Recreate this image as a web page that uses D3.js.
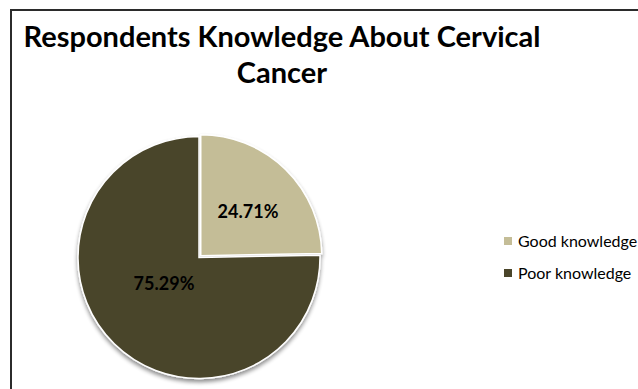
<!DOCTYPE html>
<html>
<head>
<meta charset="utf-8">
<script src="https://cdn.jsdelivr.net/npm/d3@7"></script>
<style>
  body { margin: 0; background: #fff; }
  svg { display: block; }
</style>
</head>
<body>
<div id="chart"></div>
<script>
// chart data
var categories = ["Good knowledge", "Poor knowledge"];
var shares = [24.71, 75.29];
var sliceColors = ["#C4BD97", "#4A452A"];
var titleLines = ["Respondents Knowledge About Cervical", "Cancer"];

var svgWidth = 638;
var svgHeight = 389;

var svg = d3.select("#chart")
  .append("svg")
  .attr("width", svgWidth)
  .attr("height", svgHeight);

// soft shadow under the pie
var defs = svg.append("defs");
var shadow = defs.append("filter")
  .attr("id", "shadow")
  .attr("x", "-20%").attr("y", "-20%")
  .attr("width", "140%").attr("height", "140%");
shadow.append("feGaussianBlur").attr("in", "SourceAlpha").attr("stdDeviation", 2);
shadow.append("feOffset").attr("dx", 0).attr("dy", 3).attr("result", "blur");
shadow.append("feComponentTransfer").append("feFuncA").attr("type", "linear").attr("slope", 0.45);
var merge = shadow.append("feMerge");
merge.append("feMergeNode");
merge.append("feMergeNode").attr("in", "SourceGraphic");

// chart frame (runs off the right and bottom edges)
svg.append("rect")
  .attr("x", 11)
  .attr("y", 10)
  .attr("width", 700)
  .attr("height", 500)
  .attr("fill", "none")
  .attr("stroke", "#2b2b2b")
  .attr("stroke-width", 2);

// title
svg.append("text")
  .attr("text-anchor", "middle")
  .style("font-family", "Lato, 'Open Sans', sans-serif")
  .style("font-weight", "bold")
  .style("font-size", "29px")
  .attr("fill", "#000")
  .selectAll("tspan")
  .data(titleLines)
  .enter()
  .append("tspan")
  .attr("x", 282)
  .attr("y", (d, i) => 47 + i * 36)
  .text(d => d);

// pie
var cx = 199, cy = 257.5, radius = 121;

var pie = d3.pie().sort(null).value(d => d);
var arcs = pie(shares);

var arc = d3.arc().innerRadius(0).outerRadius(radius);

var pieGroup = svg.append("g")
  .attr("transform", `translate(${cx}, ${cy})`)
  .attr("filter", "url(#shadow)");

var explode = [2.5, 0];

pieGroup.selectAll("path")
  .data(arcs)
  .enter()
  .append("path")
  .attr("d", arc)
  .attr("transform", function (d, i) {
    var mid = (d.startAngle + d.endAngle) / 2;
    return `translate(${Math.sin(mid) * explode[i]}, ${-Math.cos(mid) * explode[i]})`;
  })
  .attr("fill", (d, i) => sliceColors[i])
  .attr("stroke", "#fff")
  .attr("stroke-width", 1.5);

// percentage labels
var labelPos = [[49, -46], [-35, 26]];

svg.append("g")
  .attr("transform", `translate(${cx}, ${cy})`)
  .selectAll("text")
  .data(arcs)
  .enter()
  .append("text")
  .attr("x", (d, i) => labelPos[i][0])
  .attr("y", (d, i) => labelPos[i][1])
  .attr("text-anchor", "middle")
  .attr("dy", "0.35em")
  .style("font-family", "Lato, 'Open Sans', sans-serif")
  .style("font-weight", "bold")
  .style("font-size", "18px")
  .attr("fill", "#000")
  .text(d => d.data.toFixed(2) + "%");

// legend
var legend = svg.append("g")
  .attr("transform", "translate(504, 237)");

var legendItems = legend.selectAll("g")
  .data(categories)
  .enter()
  .append("g")
  .attr("transform", (d, i) => `translate(0, ${i * 32})`);

legendItems.append("rect")
  .attr("width", 8)
  .attr("height", 8)
  .attr("fill", (d, i) => sliceColors[i]);

legendItems.append("text")
  .attr("x", 14)
  .attr("y", 4)
  .attr("dy", "0.35em")
  .style("font-family", "Lato, 'Open Sans', sans-serif")
  .style("font-size", "16px")
  .attr("fill", "#000")
  .text(d => d);
</script>
</body>
</html>
